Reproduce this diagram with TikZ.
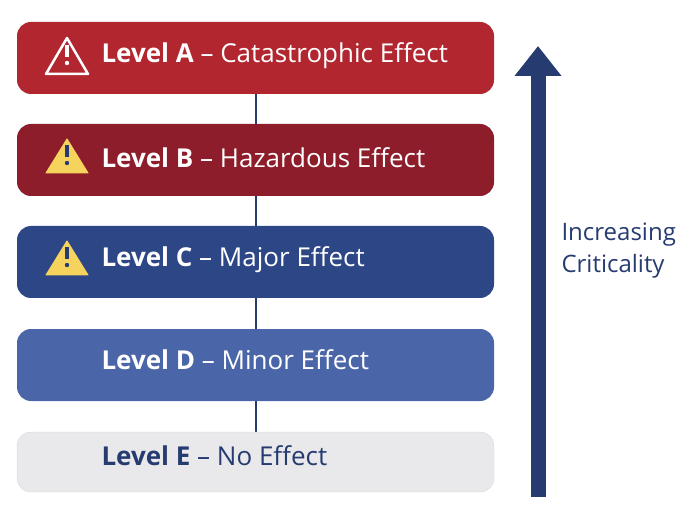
\documentclass[tikz,border=0pt]{standalone}
\usepackage{fontspec}
\setmainfont{Open Sans}
\usetikzlibrary{positioning,arrows.meta}
\definecolor{levA}{HTML}{B1262F}
\definecolor{levB}{HTML}{8E1D2B}
\definecolor{levC}{HTML}{2D4686}
\definecolor{levD}{HTML}{4A66A8}
\definecolor{levE}{HTML}{E9E9EC}
\definecolor{navy}{HTML}{263C70}
\definecolor{warn}{HTML}{F6D35C}
\tikzset{
  level/.style = {rectangle, rounded corners=14pt, minimum width=477pt,
    minimum height=72pt, text=white, font=\fontsize{22}{26}\selectfont},
  lev_e/.style = {level, fill=levE, draw=black!15, text=navy, minimum height=60pt},
  levtext/.style = {anchor=west, text=white, font=\fontsize{26}{30}\selectfont},
  link/.style = {draw=navy, line width=2.5pt},
  warnicon/.style = {fill=warn, draw=warn, line width=1pt, line join=round},
  warnline/.style = {draw=white, line width=2.5pt, line join=round}
}
\newcommand{\warnmark}[3]{% x, y, colour of mark
  \fill[#3] (#1,#2-5) rectangle ++(3.4,-12);
  \fill[#3] (#1+1.7,#2+1) circle (2.2pt);
}
\begin{document}
\begin{tikzpicture}[x=1pt,y=-1pt]
  \useasboundingbox (0,0) rectangle (690,510);
  % connectors behind the boxes
  \coordinate (top) at (256,60);
  \coordinate (bot) at (256,460);
  \draw[link] (top) -- (bot);
  \node [level, fill=levA] (A) at (255.5,58) {};
  \node [level, fill=levB] (B) at (255.5,160) {};
  \node [level, fill=levC] (C) at (255.5,262) {};
  \node [level, fill=levD] (D) at (255.5,365) {};
  \node [lev_e] (E) at (255.5,462) {};
  \node [levtext] at (98,56) {\textbf{Level A} – Catastrophic Effect};
  \node [levtext] at (98,158) {\textbf{Level B} – Hazardous Effect};
  \node [levtext] at (98,260) {\textbf{Level C} – Major Effect};
  \node [levtext] at (98,360) {\textbf{Level D} – Minor Effect};
  \node [levtext, text=navy] at (98,456) {\textbf{Level E} – No Effect};
  % warning icons
  \draw[warnline] (67,38) -- (88,74) -- (46,74) -- cycle;
  \warnmark{65.3}{62}{white}
  \draw[warnicon] (67,139) -- (88,173) -- (46,173) -- cycle;
  \warnmark{65.3}{162}{navy}
  \draw[warnicon] (67,241) -- (88,275) -- (46,275) -- cycle;
  \warnmark{65.3}{264}{navy}
  % criticality arrow
  \coordinate (arrlow) at (538,497);
  \coordinate (arrhigh) at (538,46);
  \draw[navy, line width=15pt, -{Triangle[width=45pt,length=30pt]}] (arrlow) -- (arrhigh);
  \node [anchor=west, align=left, text=navy, font=\fontsize{24}{32}\selectfont] (lbl) at (558,251) {Increasing\\Criticality};
\end{tikzpicture}
\end{document}
